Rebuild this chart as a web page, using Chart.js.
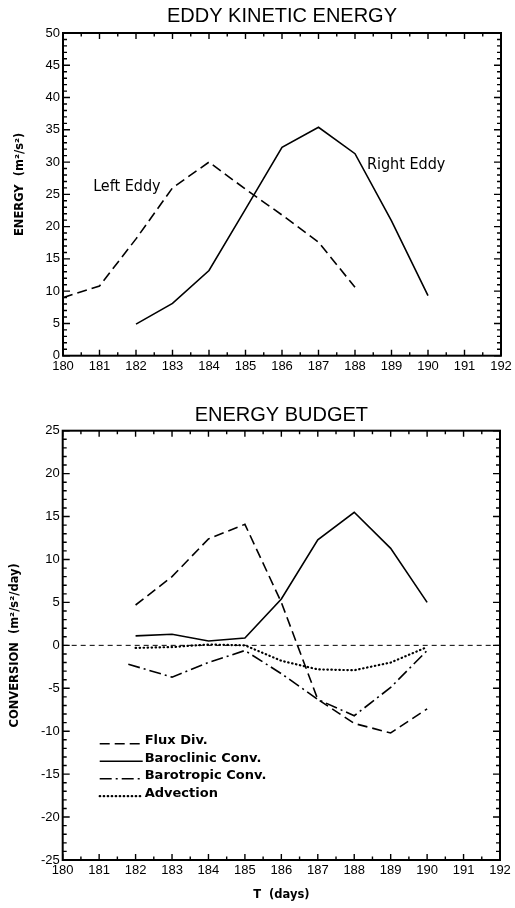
<!DOCTYPE html>
<html lang="en">
<head>
<meta charset="utf-8">
<title>Eddy Kinetic Energy / Energy Budget</title>
<script src="https://cdn.jsdelivr.net/npm/chart.js@4.4.1/dist/chart.umd.min.js"></script>
<style>
  html, body { margin: 0; padding: 0; background: #fff; }
  canvas { display: block; }
</style>
</head>
<body>
<canvas id="graficaEnergia" width="515" height="380"></canvas>
<canvas id="graficaBalance" width="515" height="528"></canvas>
<script>
// --- DATOS ---
const diasIzq = [180, 181, 182, 183, 184, 185, 186, 187, 188];
const energiaIzq = [9.0, 10.8, 18.1, 26.0, 30.0, 25.8, 21.8, 17.6, 10.6];
const diasDer = [182, 183, 184, 185, 186, 187, 188, 189, 190];
const energiaDer = [4.9, 8.1, 13.2, 22.7, 32.3, 35.4, 31.3, 20.9, 9.3];

const diasBalance = [182, 183, 184, 185, 186, 187, 188, 189, 190];
const diasBarotropica = [181.8, 183, 184, 185, 186, 187, 188, 189, 190];
const fluxDiv = [4.7, 8.0, 12.4, 14.1, 5.0, -6.3, -9.1, -10.2, -7.4];
const baroclinica = [1.1, 1.3, 0.5, 0.85, 5.4, 12.3, 15.5, 11.3, 5.0];
const barotropica = [-2.2, -3.7, -2.0, -0.6, -3.3, -6.3, -8.2, -4.9, -0.6];
const adveccion = [-0.3, -0.2, 0.1, 0.0, -1.8, -2.8, -2.9, -2.0, -0.2];
const lineaCero = [180, 192];

const ticksX = { min: 180, max: 192, paso: 1 };
const ticksEnergia = { min: 0, max: 50, paso: 5 };
const ticksBalance = { min: -25, max: 25, paso: 5 };

const FUENTE = "'Liberation Sans', Arial, sans-serif";
const FUENTE_NEGRITA = "'DejaVu Sans', 'Liberation Sans', sans-serif";

const puntos = (xs, ys) => xs.map((x, i) => ({ x, y: ys[i] }));

// --- PLUGINS ---
// marco y marcas hacia dentro en los cuatro lados
const marcasInternas = {
    id: 'marcasInternas',
    afterDraw(chart) {
        const { ctx, chartArea: a, scales: { x, y } } = chart;
        ctx.save();
        ctx.strokeStyle = '#000';
        ctx.lineWidth = 1.4;
        ctx.beginPath();
        for (let v = x.min; v <= x.max + 1e-6; v += 0.5) {
            const px = x.getPixelForValue(v);
            const largo = Number.isInteger(v) ? 6 : 3.5;
            ctx.moveTo(px, a.bottom); ctx.lineTo(px, a.bottom - largo);
            ctx.moveTo(px, a.top); ctx.lineTo(px, a.top + largo);
        }
        for (let v = y.min; v <= y.max + 1e-6; v += 1) {
            const py = y.getPixelForValue(v);
            const largo = v % 5 === 0 ? 7 : 4;
            ctx.moveTo(a.left, py); ctx.lineTo(a.left + largo, py);
            ctx.moveTo(a.right, py); ctx.lineTo(a.right - largo, py);
        }
        ctx.stroke();
        ctx.lineWidth = 2;
        ctx.strokeRect(a.left, a.top, a.right - a.left, a.bottom - a.top);
        ctx.restore();
    }
};

// rótulos de texto colocados en coordenadas de datos
const rotulos = {
    id: 'rotulos',
    afterDatasetsDraw(chart, args, opts) {
        const { ctx, scales: { x, y } } = chart;
        ctx.save();
        ctx.fillStyle = '#000';
        ctx.font = opts.font;
        ctx.textAlign = 'center';
        ctx.textBaseline = 'middle';
        (opts.items || []).forEach(r => ctx.fillText(r.texto, x.getPixelForValue(r.x), y.getPixelForValue(r.y)));
        ctx.restore();
    }
};

// leyenda dibujada dentro del área, abajo a la izquierda
const leyendaInterna = {
    id: 'leyendaInterna',
    afterDatasetsDraw(chart, args, opts) {
        if (!opts.mostrar) return;
        const { ctx, chartArea: a } = chart;
        ctx.save();
        ctx.font = opts.font;
        ctx.fillStyle = '#000';
        ctx.textBaseline = 'middle';
        let fila = 0;
        chart.data.datasets.forEach(ds => {
            if (!ds.label) return;
            const yTexto = a.top + opts.arriba + fila * opts.salto;
            ctx.strokeStyle = '#000';
            ctx.lineWidth = ds.borderWidth;
            ctx.lineCap = ds.borderCapStyle || 'butt';
            ctx.setLineDash(ds.borderDash || []);
            ctx.beginPath();
            ctx.moveTo(a.left + opts.x0, yTexto + 3);
            ctx.lineTo(a.left + opts.x1, yTexto + 3);
            ctx.stroke();
            ctx.setLineDash([]);
            ctx.fillText(ds.label, a.left + opts.xTexto, yTexto);
            fila++;
        });
        ctx.restore();
    }
};

function escalaX(alto, titulo) {
    return {
        type: 'linear', min: ticksX.min, max: ticksX.max,
        grid: { display: false, drawTicks: false },
        border: { display: false },
        ticks: { stepSize: ticksX.paso, color: '#000', padding: 3, maxRotation: 0, autoSkip: false,
                 font: { family: FUENTE, size: 13 } },
        title: titulo ? { display: true, text: titulo, color: '#000', padding: { top: 0, bottom: 6 },
                          font: { family: FUENTE_NEGRITA, size: 11.5, weight: 'bold' } } : { display: false },
        afterFit: s => { s.height = alto; }
    };
}

function escalaY(lim, ancho, titulo, margen) {
    return {
        type: 'linear', min: lim.min, max: lim.max,
        grid: { display: false, drawTicks: false },
        border: { display: false },
        ticks: { stepSize: lim.paso, color: '#000', padding: 3, font: { family: FUENTE, size: 13 } },
        title: { display: true, text: titulo, color: '#000', padding: { top: margen, bottom: 0 },
                 font: { family: FUENTE_NEGRITA, size: 11.5, weight: 'bold' } },
        afterFit: s => { s.width = ancho; }
    };
}

function opcionesBase(titulo, relleno, derecha, escalas, extra) {
    return {
        responsive: false,
        animation: false,
        events: [],
        layout: { padding: { left: 0, right: derecha, top: 0, bottom: 0 } },
        elements: { point: { radius: 0 }, line: { tension: 0 } },
        scales: escalas,
        plugins: Object.assign({
            legend: { display: false },
            tooltip: { enabled: false },
            title: { display: true, text: titulo, color: '#000', fullSize: false, padding: relleno,
                     font: { family: FUENTE, size: 20, weight: 'normal' } }
        }, extra)
    };
}

function linea(etiqueta, datos, trazo, ancho, extra) {
    return Object.assign({ label: etiqueta, data: datos, borderColor: '#000', borderWidth: ancho,
                           borderDash: trazo, fill: false, pointRadius: 0 }, extra || {});
}

// --- GRÁFICA SUPERIOR ---
function dibujarEnergiaCinetica() {
    const ctx = document.getElementById('graficaEnergia').getContext('2d');
    new Chart(ctx, {
        type: 'line',
        data: {
            datasets: [
                linea(null, puntos(diasIzq, energiaIzq), [10, 5], 1.6),
                linea(null, puntos(diasDer, energiaDer), [], 1.6)
            ]
        },
        options: opcionesBase('EDDY KINETIC ENERGY', { top: 4, bottom: 5 }, 14, {
            x: escalaX(24.3),
            // los espacios iniciales suben el texto girado hacia donde está en la figura
            y: escalaY(ticksEnergia, 63, '     ENERGY  (m\u00B2/s\u00B2)', 13)
        }, {
            rotulos: { font: `16px 'Liberation Sans Narrow', 'DejaVu Sans Condensed', sans-serif`,
                       items: [{ texto: 'Left Eddy', x: 181.75, y: 26.2 }, { texto: 'Right Eddy', x: 189.4, y: 29.6 }] },
            leyendaInterna: { mostrar: false }
        }),
        plugins: [marcasInternas, rotulos, leyendaInterna]
    });
}

// --- GRÁFICA INFERIOR ---
function dibujarBalance() {
    const ctx = document.getElementById('graficaBalance').getContext('2d');
    new Chart(ctx, {
        type: 'line',
        data: {
            datasets: [
                linea(null, puntos(lineaCero, [0, 0]), [5, 4], 1),
                linea('Flux Div.', puntos(diasBalance, fluxDiv), [10, 5], 1.6),
                linea('Baroclinic Conv.', puntos(diasBalance, baroclinica), [], 1.6),
                linea('Barotropic Conv.', puntos(diasBarotropica, barotropica), [12, 4, 2, 4], 1.6),
                linea('Advection', puntos(diasBalance, adveccion), [0.5, 3.5], 2.2, { borderCapStyle: 'round' })
            ]
        },
        options: opcionesBase('ENERGY BUDGET', { top: 23, bottom: 3.7 }, 15, {
            x: escalaX(48, 'T  (days)'),
            y: escalaY(ticksBalance, 62.7, 'CONVERSION  (m\u00B2/s\u00B2/day)', 8.4)
        }, {
            rotulos: { font: '12px sans-serif', items: [] },
            leyendaInterna: { mostrar: true, font: `bold 13px ${FUENTE_NEGRITA}`,
                              arriba: 310, salto: 17.5, x0: 37, x1: 80, xTexto: 82 }
        }),
        plugins: [marcasInternas, rotulos, leyendaInterna]
    });
}

document.addEventListener('DOMContentLoaded', () => {
    dibujarEnergiaCinetica();
    dibujarBalance();
});
</script>
</body>
</html>
